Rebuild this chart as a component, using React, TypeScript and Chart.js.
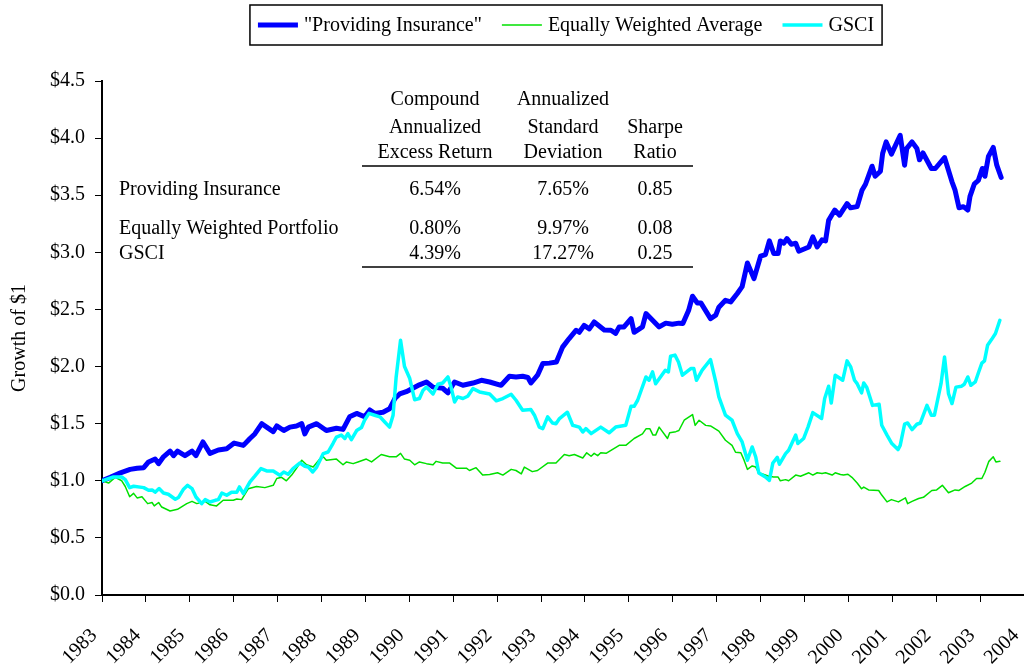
import React, { useEffect, useRef } from "react";
import { Chart, registerables } from "chart.js";

Chart.register(...registerables);

const FONT = '"Liberation Serif", "Times New Roman", serif';

const seriesLabels = ['"Providing Insurance"', "Equally Weighted Average", "GSCI"];
const seriesColors = ["#0000FF", "#00E000", "#00FFFF"];
const seriesWidths = [5, 1.5, 3.5];

const yearLabels = [
  "1983", "1984", "1985", "1986", "1987", "1988", "1989", "1990", "1991", "1992", "1993",
  "1994", "1995", "1996", "1997", "1998", "1999", "2000", "2001", "2002", "2003", "2004",
];
const yTickLabels = ["$0.0", "$0.5", "$1.0", "$1.5", "$2.0", "$2.5", "$3.0", "$3.5", "$4.0", "$4.5"];

const piYears = [
  1983.0, 1983.19, 1983.42, 1983.64, 1983.8, 1983.95, 1984.06, 1984.21, 1984.29, 1984.4, 1984.55, 1984.63,
  1984.72, 1984.89, 1985.05, 1985.14, 1985.3, 1985.46, 1985.65, 1985.84, 1986.01, 1986.22, 1986.37, 1986.48,
  1986.64, 1986.75, 1986.9, 1986.98, 1987.14, 1987.28, 1987.43, 1987.55, 1987.62, 1987.7, 1987.89, 1988.11,
  1988.34, 1988.49, 1988.64, 1988.8, 1988.98, 1989.1, 1989.21, 1989.4, 1989.55, 1989.67, 1989.78, 1989.93,
  1990.08, 1990.23, 1990.39, 1990.54, 1990.76, 1990.88, 1991.03, 1991.22, 1991.45, 1991.64, 1991.83, 1992.09,
  1992.28, 1992.43, 1992.58, 1992.7, 1992.77, 1992.92, 1993.04, 1993.19, 1993.35, 1993.49, 1993.64, 1993.8,
  1993.87, 1993.98, 1994.1, 1994.21, 1994.44, 1994.59, 1994.7, 1994.78, 1994.89, 1995.05, 1995.12, 1995.31,
  1995.39, 1995.54, 1995.69, 1995.84, 1995.99, 1996.14, 1996.23, 1996.36, 1996.45, 1996.56, 1996.64, 1996.86,
  1996.98, 1997.05, 1997.2, 1997.32, 1997.47, 1997.58, 1997.7, 1997.85, 1998.0, 1998.11, 1998.2, 1998.3,
  1998.4, 1998.45, 1998.53, 1998.6, 1998.7, 1998.8, 1998.87, 1999.1, 1999.19, 1999.29, 1999.4, 1999.48,
  1999.55, 1999.69, 1999.8, 1999.97, 2000.05, 2000.2, 2000.31, 2000.39, 2000.54, 2000.61, 2000.73, 2000.78,
  2000.86, 2000.98, 2001.18, 2001.28, 2001.33, 2001.45, 2001.56, 2001.62, 2001.7, 2001.89, 2001.98, 2002.19,
  2002.36, 2002.43, 2002.52, 2002.62, 2002.72, 2002.77, 2002.87, 2002.96, 2003.05, 2003.11, 2003.19, 2003.3,
  2003.38, 2003.48,
];
const piValues = [
  1.0, 1.03, 1.07, 1.1, 1.11, 1.115, 1.165, 1.19, 1.15, 1.21, 1.26, 1.22,
  1.26, 1.22, 1.26, 1.22, 1.34, 1.24, 1.27, 1.28, 1.33, 1.31, 1.37, 1.41,
  1.5, 1.47, 1.43, 1.48, 1.44, 1.47, 1.48, 1.5, 1.41, 1.47, 1.5, 1.44,
  1.46, 1.45, 1.56, 1.59, 1.56, 1.62, 1.59, 1.6, 1.63, 1.72, 1.76, 1.78,
  1.81, 1.84, 1.865, 1.82, 1.81, 1.77, 1.865, 1.836, 1.856, 1.88, 1.865, 1.836,
  1.915, 1.909, 1.915, 1.904, 1.856, 1.924, 2.026, 2.03, 2.04, 2.17, 2.245, 2.318,
  2.3, 2.36, 2.33, 2.39, 2.32, 2.318, 2.29, 2.347, 2.347, 2.42, 2.3, 2.347,
  2.464, 2.405, 2.347, 2.38, 2.37, 2.38, 2.377, 2.49, 2.616, 2.557, 2.557, 2.42,
  2.45, 2.52, 2.58, 2.566, 2.64, 2.7, 2.907, 2.77, 2.966, 2.98, 3.1, 2.99,
  2.99, 3.1, 3.08, 3.12, 3.07, 3.08, 3.01, 3.047, 3.135, 3.047, 3.11, 3.1,
  3.28, 3.37, 3.325, 3.427, 3.39, 3.4, 3.544, 3.596, 3.754, 3.666, 3.71, 3.865,
  3.967, 3.86, 4.025, 3.763, 3.91, 3.967, 3.91, 3.81, 3.87, 3.734, 3.734, 3.83,
  3.617, 3.544, 3.39, 3.4, 3.37, 3.49, 3.6, 3.63, 3.734, 3.666, 3.84, 3.918,
  3.763, 3.655,
];

const ewYears = [
  1983.0, 1983.15, 1983.3, 1983.45, 1983.53, 1983.63, 1983.72, 1983.8, 1983.91, 1984.04, 1984.14, 1984.19,
  1984.29, 1984.36, 1984.55, 1984.72, 1984.93, 1985.05, 1985.16, 1985.35, 1985.46, 1985.61, 1985.76, 1985.99,
  1986.07, 1986.18, 1986.33, 1986.52, 1986.71, 1986.9, 1986.98, 1987.09, 1987.2, 1987.32, 1987.43, 1987.55,
  1987.66, 1987.81, 1987.96, 1988.04, 1988.11, 1988.34, 1988.49, 1988.57, 1988.72, 1988.83, 1989.02, 1989.14,
  1989.36, 1989.55, 1989.7, 1989.8, 1989.89, 1990.01, 1990.12, 1990.23, 1990.39, 1990.54, 1990.61, 1990.76,
  1990.92, 1991.07, 1991.3, 1991.37, 1991.52, 1991.67, 1991.83, 1992.01, 1992.13, 1992.32, 1992.43, 1992.55,
  1992.62, 1992.8, 1992.92, 1993.15, 1993.34, 1993.53, 1993.64, 1993.76, 1993.95, 1994.04, 1994.14, 1994.21,
  1994.29, 1994.36, 1994.48, 1994.78, 1994.93, 1995.12, 1995.31, 1995.39, 1995.48, 1995.55, 1995.61, 1995.69,
  1995.88, 1995.93, 1996.07, 1996.14, 1996.26, 1996.45, 1996.51, 1996.6, 1996.75, 1996.86, 1997.05, 1997.2,
  1997.35, 1997.43, 1997.55, 1997.62, 1997.7, 1997.81, 1997.89, 1997.96, 1998.19, 1998.3, 1998.4, 1998.45,
  1998.57, 1998.64, 1998.8, 1998.91, 1999.1, 1999.19, 1999.29, 1999.4, 1999.48, 1999.63, 1999.7, 1999.82,
  1999.89, 1999.99, 2000.08, 2000.2, 2000.3, 2000.35, 2000.46, 2000.69, 2000.76, 2000.88, 2000.98, 2001.14,
  2001.3, 2001.35, 2001.45, 2001.6, 2001.71, 2001.9, 2002.01, 2002.14, 2002.28, 2002.43, 2002.52, 2002.66,
  2002.81, 2002.92, 2003.04, 2003.11, 2003.2, 2003.3, 2003.36, 2003.45,
];
const ewValues = [
  1.0, 0.98, 1.03, 1.0, 0.95, 0.86, 0.89, 0.85, 0.86, 0.8, 0.81, 0.78,
  0.81, 0.77, 0.735, 0.75, 0.8, 0.82, 0.8, 0.82, 0.79, 0.78, 0.83, 0.83,
  0.84, 0.835, 0.93, 0.95, 0.94, 0.96, 1.02, 1.03, 1.0, 1.05, 1.11, 1.18,
  1.14, 1.12, 1.19, 1.21, 1.18, 1.19, 1.14, 1.165, 1.15, 1.165, 1.19, 1.165,
  1.23, 1.21, 1.21, 1.24, 1.19, 1.18, 1.14, 1.165, 1.15, 1.14, 1.17, 1.155,
  1.155, 1.11, 1.11, 1.09, 1.115, 1.05, 1.055, 1.07, 1.05, 1.1, 1.09, 1.06,
  1.12, 1.08, 1.09, 1.155, 1.155, 1.23, 1.22, 1.23, 1.2, 1.245, 1.215, 1.24,
  1.22, 1.245, 1.24, 1.31, 1.31, 1.37, 1.41, 1.455, 1.455, 1.4, 1.4, 1.47,
  1.37, 1.42, 1.43, 1.44, 1.53, 1.58, 1.485, 1.53, 1.485, 1.48, 1.435, 1.355,
  1.31, 1.25, 1.245, 1.185, 1.1, 1.13, 1.12, 1.07, 1.04, 1.033, 1.033, 1.0,
  1.01, 1.0, 1.05, 1.04, 1.07, 1.05, 1.07, 1.063, 1.07, 1.05, 1.07, 1.055,
  1.05, 1.057, 1.03, 0.98, 0.93, 0.945, 0.92, 0.915, 0.875, 0.815, 0.835, 0.815,
  0.85, 0.8, 0.82, 0.845, 0.855, 0.915, 0.92, 0.96, 0.895, 0.92, 0.915, 0.95,
  0.98, 1.02, 1.02, 1.075, 1.17, 1.21, 1.165, 1.17,
];

const gsYears = [
  1983.0, 1983.26, 1983.45, 1983.53, 1983.63, 1983.72, 1983.95, 1984.06, 1984.14, 1984.21, 1984.3, 1984.4,
  1984.51, 1984.67, 1984.74, 1984.85, 1984.95, 1985.05, 1985.14, 1985.27, 1985.35, 1985.46, 1985.58, 1985.65,
  1985.73, 1985.84, 1985.95, 1986.07, 1986.13, 1986.22, 1986.37, 1986.48, 1986.62, 1986.75, 1986.9, 1987.05,
  1987.14, 1987.24, 1987.35, 1987.51, 1987.62, 1987.7, 1987.8, 1987.89, 1988.04, 1988.15, 1988.26, 1988.34,
  1988.45, 1988.53, 1988.6, 1988.68, 1988.8, 1988.91, 1988.98, 1989.08, 1989.21, 1989.33, 1989.44, 1989.55,
  1989.63, 1989.7, 1989.8, 1989.89, 1990.01, 1990.12, 1990.23, 1990.31, 1990.39, 1990.54, 1990.65, 1990.76,
  1990.88, 1990.95, 1991.03, 1991.1, 1991.22, 1991.33, 1991.45, 1991.6, 1991.83, 1991.98, 1992.13, 1992.32,
  1992.43, 1992.58, 1992.77, 1992.85, 1992.96, 1993.04, 1993.15, 1993.26, 1993.34, 1993.42, 1993.6, 1993.72,
  1993.87, 1993.95, 1994.02, 1994.14, 1994.36, 1994.55, 1994.7, 1994.93, 1995.05, 1995.12, 1995.2, 1995.39,
  1995.46, 1995.54, 1995.61, 1995.83, 1995.9, 1995.95, 1996.05, 1996.13, 1996.22, 1996.41, 1996.48, 1996.54,
  1996.67, 1996.86, 1996.98, 1997.05, 1997.2, 1997.35, 1997.47, 1997.58, 1997.7, 1997.81, 1997.89, 1997.96,
  1998.11, 1998.2, 1998.28, 1998.38, 1998.43, 1998.57, 1998.64, 1998.8, 1998.85, 1998.98, 1999.08, 1999.19,
  1999.39, 1999.46, 1999.55, 1999.61, 1999.7, 1999.78, 1999.87, 1999.97, 2000.05, 2000.14, 2000.2, 2000.3,
  2000.35, 2000.42, 2000.55, 2000.7, 2000.76, 2000.88, 2000.99, 2001.13, 2001.18, 2001.28, 2001.35, 2001.45,
  2001.56, 2001.64, 2001.79, 2001.89, 2001.96, 2002.11, 2002.19, 2002.28, 2002.36, 2002.45, 2002.58, 2002.64,
  2002.72, 2002.79, 2002.89, 2002.96, 2003.04, 2003.1, 2003.17, 2003.26, 2003.35, 2003.45,
];
const gsValues = [
  1.0, 1.033, 1.033, 1.01, 0.94, 0.952, 0.94, 0.917, 0.92, 0.9, 0.932, 0.893,
  0.882, 0.838, 0.853, 0.923, 0.96, 0.932, 0.858, 0.8, 0.835, 0.814, 0.829, 0.835,
  0.893, 0.873, 0.9, 0.9, 0.946, 0.888, 0.99, 1.04, 1.107, 1.086, 1.086, 1.048,
  1.077, 1.057, 1.107, 1.156, 1.127, 1.12, 1.077, 1.12, 1.238, 1.252, 1.326, 1.383,
  1.4, 1.37, 1.413, 1.36, 1.44, 1.466, 1.53, 1.59, 1.574, 1.56, 1.515, 1.47,
  1.574, 1.909, 2.23, 2.0, 1.895, 1.71, 1.72, 1.79, 1.82, 1.76, 1.845, 1.856,
  1.909, 1.82, 1.69, 1.734, 1.72, 1.74, 1.807, 1.778, 1.76, 1.7, 1.72, 1.757,
  1.705, 1.617, 1.623, 1.574, 1.47, 1.457, 1.56, 1.506, 1.5, 1.545, 1.6, 1.486,
  1.47, 1.427, 1.457, 1.413, 1.47, 1.42, 1.47, 1.486, 1.652, 1.652, 1.705, 1.909,
  1.88, 1.953, 1.85, 1.968, 1.953, 2.09, 2.1, 2.04, 1.924, 1.982, 1.982, 1.88,
  1.968, 2.06, 1.865, 1.734, 1.574, 1.53, 1.413, 1.34, 1.18, 1.296, 1.208, 1.068,
  1.033, 1.004, 1.156, 1.205, 1.145, 1.238, 1.267, 1.4, 1.326, 1.37, 1.47, 1.597,
  1.545, 1.72, 1.828, 1.68, 1.924, 1.904, 1.88, 2.05, 2.0, 1.88, 1.85, 1.77,
  1.856, 1.816, 1.66, 1.67, 1.486, 1.4, 1.326, 1.273, 1.31, 1.495, 1.506, 1.448,
  1.495, 1.506, 1.66, 1.574, 1.574, 1.85, 2.084, 1.763, 1.676, 1.82, 1.828, 1.845,
  1.909, 1.836, 1.865, 1.944, 2.03, 2.05, 2.186, 2.236, 2.289, 2.405,
];

const tableHeaderReturn = ["Compound", "Annualized", "Excess Return"];
const tableHeaderStdDev = ["Annualized", "Standard", "Deviation"];
const tableHeaderSharpe = ["Sharpe", "Ratio"];
const tableRowLabels = ["Providing Insurance", "Equally Weighted Portfolio", "GSCI"];
const tableReturn = ["6.54%", "0.80%", "4.39%"];
const tableStdDev = ["7.65%", "9.97%", "17.27%"];
const tableSharpe = ["0.85", "0.08", "0.25"];

const toPoints = (xs: number[], ys: number[]) => xs.map((x, i) => ({ x, y: ys[i] }));

const tablePlugin = {
  id: "statsTable",
  afterDraw(chart: any) {
    const ctx = chart.ctx;
    ctx.save();
    ctx.fillStyle = "#000";
    ctx.strokeStyle = "#000";
    ctx.font = `20px ${FONT}`;
    ctx.textBaseline = "middle";
    const colX = [435, 563, 655];
    const headY = [100, 128, 153];
    ctx.textAlign = "center";
    tableHeaderReturn.forEach((t, i) => ctx.fillText(t, colX[0], headY[i]));
    tableHeaderStdDev.forEach((t, i) => ctx.fillText(t, colX[1], headY[i]));
    tableHeaderSharpe.forEach((t, i) => ctx.fillText(t, colX[2], headY[i + 1]));
    const rowY = [190, 229, 254];
    tableReturn.forEach((t, i) => ctx.fillText(t, colX[0], rowY[i]));
    tableStdDev.forEach((t, i) => ctx.fillText(t, colX[1], rowY[i]));
    tableSharpe.forEach((t, i) => ctx.fillText(t, colX[2], rowY[i]));
    ctx.textAlign = "left";
    tableRowLabels.forEach((t, i) => ctx.fillText(t, 119, rowY[i]));
    ctx.lineWidth = 1.6;
    [166, 267].forEach((y) => {
      ctx.beginPath();
      ctx.moveTo(362, y);
      ctx.lineTo(693, y);
      ctx.stroke();
    });
    ctx.restore();
  },
};

const legendPlugin = {
  id: "boxedLegend",
  afterDraw(chart: any) {
    const ctx = chart.ctx;
    ctx.save();
    ctx.font = `20px ${FONT}`;
    const lineLen = 40;
    const gapLT = 6;
    const gapItems = 20;
    const padX = 8;
    const items = chart.data.datasets.map((ds: any) => ({
      label: ds.label,
      color: ds.borderColor,
      width: ds.borderWidth,
      tw: ctx.measureText(ds.label).width,
    }));
    const total =
      items.reduce((s: number, it: any) => s + lineLen + gapLT + it.tw, 0) + gapItems * (items.length - 1);
    const boxW = total + padX * 2;
    const cx = 566;
    const left = cx - boxW / 2;
    const top = 5;
    const h = 40;
    ctx.strokeStyle = "#000";
    ctx.lineWidth = 1.5;
    ctx.strokeRect(left, top, boxW, h);
    let x = left + padX;
    const cy = top + h / 2;
    ctx.textBaseline = "middle";
    ctx.textAlign = "left";
    items.forEach((it: any) => {
      ctx.strokeStyle = it.color;
      ctx.lineWidth = it.width;
      ctx.beginPath();
      ctx.moveTo(x, cy);
      ctx.lineTo(x + lineLen, cy);
      ctx.stroke();
      x += lineLen + gapLT;
      ctx.fillStyle = "#000";
      ctx.fillText(it.label, x, cy + 1);
      x += it.tw + gapItems;
    });
    ctx.restore();
  },
};

export default function App() {
  const canvasRef = useRef<HTMLCanvasElement | null>(null);

  useEffect(() => {
    if (!canvasRef.current) return;
    const series = [
      toPoints(piYears, piValues),
      toPoints(ewYears, ewValues),
      toPoints(gsYears, gsValues),
    ];
    const chart = new Chart(canvasRef.current, {
      type: "line",
      data: {
        datasets: series.map((data, i) => ({
          label: seriesLabels[i],
          data,
          borderColor: seriesColors[i],
          backgroundColor: seriesColors[i],
          borderWidth: seriesWidths[i],
          pointRadius: 0,
          tension: 0,
          fill: false,
          borderJoinStyle: "round" as const,
          borderCapStyle: "round" as const,
          order: 3 - i,
        })),
      },
      options: {
        responsive: false,
        animation: false,
        layout: { padding: { top: 81, left: 0, right: 0, bottom: 0 } },
        plugins: {
          legend: { display: false },
          tooltip: { enabled: false },
          title: { display: false },
        },
        scales: {
          x: {
            type: "linear",
            min: 1983,
            max: 2004,
            afterFit(scale: any) {
              scale.height = 69;
              scale.paddingLeft = 0;
              scale.paddingRight = 0;
            },
            ticks: {
              stepSize: 1,
              autoSkip: false,
              minRotation: 45,
              maxRotation: 45,
              padding: 22,
              labelOffset: -8,
              color: "#000",
              font: { family: FONT, size: 20 },
              callback: (v: any) => yearLabels[Math.round(Number(v)) - 1983] ?? "",
            },
            grid: { drawOnChartArea: false, drawTicks: true, tickLength: 7, color: "#000", lineWidth: 1 },
            border: { display: true, color: "#000", width: 2 },
          },
          y: {
            type: "linear",
            min: 0,
            max: 4.5,
            afterFit(scale: any) {
              scale.width = 102;
              scale.paddingTop = 0;
              scale.paddingBottom = 0;
            },
            ticks: {
              stepSize: 0.5,
              padding: 10,
              color: "#000",
              font: { family: FONT, size: 20 },
              callback: (_v: any, i: number) => yTickLabels[i],
            },
            title: {
              display: true,
              text: "Growth of $1",
              color: "#000",
              font: { family: FONT, size: 20 },
              padding: { top: 8, bottom: 0 },
            },
            grid: { drawOnChartArea: false, drawTicks: true, tickLength: 7, color: "#000", lineWidth: 1 },
            border: { display: true, color: "#000", width: 2 },
          },
        },
      },
      plugins: [tablePlugin, legendPlugin],
    });
    return () => chart.destroy();
  }, []);

  return (
    <div style={{ position: "absolute", left: 0, top: 0, width: 1024, height: 664, background: "#fff" }}>
      <canvas ref={canvasRef} width={1024} height={664} style={{ display: "block" }} />
    </div>
  );
}
